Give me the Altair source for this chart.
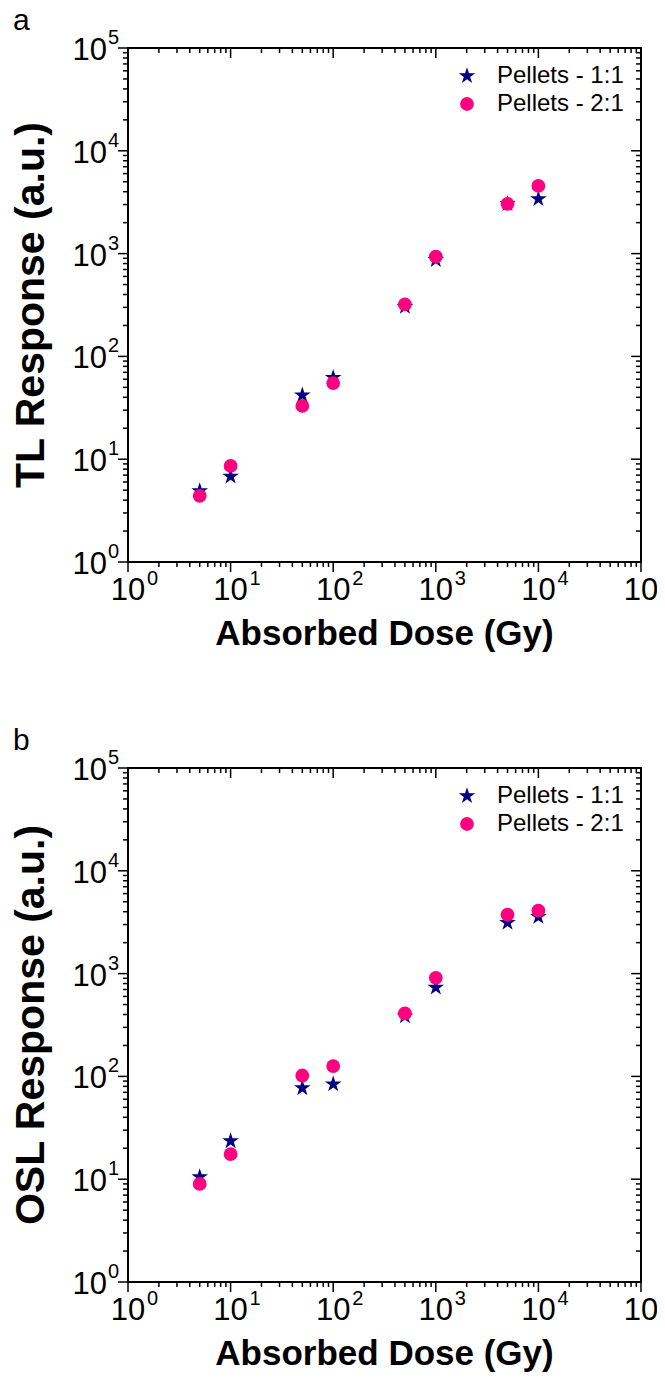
import altair as alt
import pandas as pd

# ---- data ----
DOSE = [5, 10, 50, 100, 500, 1000, 5000, 10000]
TL_11 = [4.9, 6.8, 42, 62, 305, 870, 3050, 3400]
TL_21 = [4.4, 8.6, 33, 55, 320, 935, 3050, 4550]
OSL_11 = [10.5, 23.5, 77, 84, 385, 735, 3130, 3570]
OSL_21 = [9.0, 17.5, 102, 126, 410, 910, 3740, 4090]

SERIES = ["Pellets - 1:1", "Pellets - 2:1"]
COLORS = ["#000080", "#FF0080"]
DECADES = [1, 10, 100, 1000, 10000, 100000]
EXPONENTS = ["0", "1", "2", "3", "4", "5"]
MINOR_MULT = [2, 3, 4, 5, 6, 7, 8, 9]

W = 513
H = 514
GAP = 206
TOTAL = 2 * H + GAP
FONT = "Liberation Sans"
STAR = ("M0,-1.27L0.285,-0.392L1.208,-0.392L0.461,0.15L0.747,1.027L0,0.485"
        "L-0.747,1.027L-0.461,0.15L-1.208,-0.392L-0.285,-0.392Z")

MINORS = [m * d for d in DECADES[:-1] for m in MINOR_MULT]


def xscale():
    return alt.Scale(type="log", domain=[1, 100000], nice=False)


def yscale(top):
    return alt.Scale(type="log", domain=[1, 100000], nice=False, range=[top + H, top])


def rules(vals, side, length, top):
    df = pd.DataFrame({"v": vals})
    base = alt.Chart(df).mark_rule(color="black", strokeWidth=1.5)
    if side == "bottom":
        enc = dict(x=alt.X("v:Q", scale=xscale(), axis=None),
                   y=alt.value(top + H), y2=alt.value(top + H + length))
    elif side == "top":
        enc = dict(x=alt.X("v:Q", scale=xscale(), axis=None),
                   y=alt.value(top), y2=alt.value(top + length))
    elif side == "left":
        enc = dict(y=alt.Y("v:Q", scale=yscale(top), axis=None),
                   x=alt.value(0), x2=alt.value(-length))
    else:
        enc = dict(y=alt.Y("v:Q", scale=yscale(top), axis=None),
                   x=alt.value(W - length), x2=alt.value(W))
    return base.encode(**enc)


def panel(letter, ytitle, v11, v21, top):
    pts = pd.DataFrame({
        "dose": DOSE + DOSE,
        "resp": v11 + v21,
        "series": [SERIES[0]] * len(DOSE) + [SERIES[1]] * len(DOSE),
    })
    leg = alt.Legend(title=None, orient="none", legendX=327, legendY=top + 16,
                     labelFontSize=24, labelFont=FONT, labelColor="black",
                     symbolSize=190, symbolStrokeWidth=0, symbolOpacity=1,
                     labelOffset=18, rowPadding=4, padding=0, labelLimit=400)
    points = alt.Chart(pts).mark_point(filled=True, size=190, opacity=1, strokeWidth=0).encode(
        x=alt.X("dose:Q", scale=xscale(), axis=None),
        y=alt.Y("resp:Q", scale=yscale(top), axis=None),
        color=alt.Color("series:N", scale=alt.Scale(domain=SERIES, range=COLORS), legend=leg),
        shape=alt.Shape("series:N", scale=alt.Scale(domain=SERIES, range=[STAR, "circle"]), legend=leg),
    )

    frame = alt.Chart(pd.DataFrame({"f": [0]})).mark_rect(
        filled=False, stroke="black", strokeWidth=2).encode(
        x=alt.value(0), x2=alt.value(W), y=alt.value(top), y2=alt.value(top + H))

    dec = pd.DataFrame({"v": DECADES, "e": EXPONENTS})
    xlab = alt.Chart(dec).mark_text(font=FONT, fontSize=31, align="center", baseline="alphabetic",
                                    color="black").encode(
        x=alt.X("v:Q", scale=xscale(), axis=None), y=alt.value(top + H + 38), text=alt.value("10"))
    xexp = alt.Chart(dec).mark_text(font=FONT, fontSize=20, align="left", baseline="alphabetic",
                                    dx=19, color="black").encode(
        x=alt.X("v:Q", scale=xscale(), axis=None), y=alt.value(top + H + 23), text="e:N")
    ylab = alt.Chart(dec).mark_text(font=FONT, fontSize=31, align="right", baseline="middle",
                                    dy=3, color="black").encode(
        y=alt.Y("v:Q", scale=yscale(top), axis=None), x=alt.value(-21), text=alt.value("10"))
    yexp = alt.Chart(dec).mark_text(font=FONT, fontSize=20, align="left", baseline="middle",
                                    dy=-10, color="black").encode(
        y=alt.Y("v:Q", scale=yscale(top), axis=None), x=alt.value(-20), text="e:N")

    xt = alt.Chart(pd.DataFrame({"t": ["Absorbed Dose (Gy)"]})).mark_text(
        font=FONT, fontSize=35, fontWeight="bold", align="center", baseline="alphabetic",
        color="black").encode(x=alt.value(W / 2), y=alt.value(top + H + 83), text="t:N")
    yt = alt.Chart(pd.DataFrame({"t": [ytitle]})).mark_text(
        font=FONT, fontSize=41, fontWeight="bold", align="center", baseline="alphabetic",
        angle=270, color="black").encode(x=alt.value(-84), y=alt.value(top + H / 2), text="t:N")
    lt = alt.Chart(pd.DataFrame({"t": [letter]})).mark_text(
        font=FONT, fontSize=30, align="left", baseline="alphabetic", color="black").encode(
        x=alt.value(-115), y=alt.value(top - 18), text="t:N")

    return [
        rules(DECADES, "bottom", 10, top), rules(MINORS, "bottom", 5, top),
        rules(DECADES, "top", 10, top), rules(MINORS, "top", 5, top),
        rules(DECADES, "left", 10, top), rules(MINORS, "left", 5, top),
        rules(DECADES, "right", 10, top), rules(MINORS, "right", 5, top),
        frame, points, xlab, xexp, ylab, yexp, xt, yt, lt,
    ]


layers = (panel("a", "TL Response (a.u.)", TL_11, TL_21, 0)
          + panel("b", "OSL Response (a.u.)", OSL_11, OSL_21, H + GAP))

chart = (
    alt.layer(*layers)
    .resolve_scale(y="independent", color="independent", shape="independent")
    .resolve_legend(color="independent", shape="independent")
    .properties(width=W, height=TOTAL,
                autosize=alt.AutoSizeParams(type="none"),
                padding={"left": 120, "top": 40, "right": 16, "bottom": 96},
                background="white")
    .configure_view(strokeWidth=0)
)

chart.save("out.html", embed_options={"renderer": "svg", "actions": False})
